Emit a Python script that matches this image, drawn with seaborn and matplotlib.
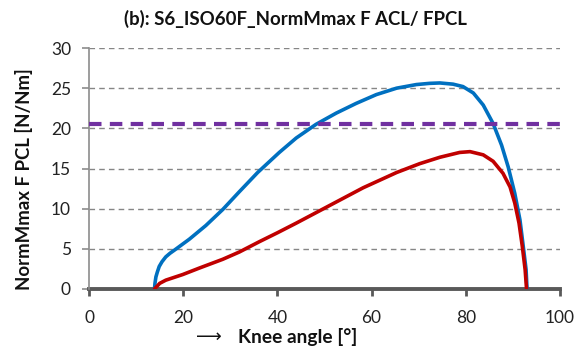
import numpy as np
import pandas as pd
import matplotlib
matplotlib.use("Agg")
import matplotlib.pyplot as plt
import seaborn as sns

# Knee angle [deg] and normalised ligament forces [N/Nm]
angle_acl = [13.9, 14.0, 14.2, 14.5, 14.9, 15.5, 16.3, 17.2, 18.4, 21.3, 24.8, 28.4, 31.9, 35.8, 40.4,
             44.0, 48.2, 52.5, 56.7, 61.0, 65.3, 69.5, 72.3, 74.5, 77.3, 79.4, 81.6, 83.7, 85.8,
             87.6, 89.0, 90.4, 91.5, 92.2, 92.8, 93.0]
force_acl = [0, 0.7, 1.5, 2.1, 2.8, 3.4, 4.0, 4.45, 4.95, 6.2, 7.9, 9.9, 12.1, 14.5, 17.0,
             18.8, 20.5, 21.9, 23.1, 24.2, 25.0, 25.45, 25.6, 25.65, 25.5, 25.2, 24.4, 22.9, 20.6,
             17.9, 15.2, 11.9, 8.6, 5.3, 2.4, 0]

angle_pcl = [13.9, 15.0, 16.3, 19.9, 23.4, 28.4, 31.9, 36.2, 40.0, 44.0, 51.1, 58.2, 65.3, 70.2, 74.5,
             78.7, 80.9, 83.7, 85.8, 87.9, 89.4, 90.4, 91.3, 92.0, 92.6, 92.9]
force_pcl = [0, 0.7, 1.1, 1.8, 2.6, 3.7, 4.6, 5.9, 7.0, 8.2, 10.4, 12.6, 14.5, 15.6, 16.4,
             17.0, 17.1, 16.7, 15.9, 14.4, 12.7, 10.7, 8.2, 5.3, 2.4, 0]

threshold = 20.6

x_ticks = [0, 20, 40, 60, 80, 100]
y_ticks = [0, 5, 10, 15, 20, 25, 30]

title = "(b): S6_ISO60F_NormMmax F ACL/ FPCL"
y_label = "NormMmax F PCL [N/Nm]"
x_label = "Knee angle [°]"

df = pd.concat([
    pd.DataFrame({"angle": angle_acl, "force": force_acl, "ligament": "ACL"}),
    pd.DataFrame({"angle": angle_pcl, "force": force_pcl, "ligament": "PCL"}),
], ignore_index=True)

sns.set_theme(style="white")
plt.rcParams["font.family"] = ["Lato", "DejaVu Sans"]

fig = plt.figure(figsize=(5.8, 3.57), dpi=100)
ax = fig.add_axes([0.1535, 0.1905, 0.812, 0.675])

grid_col = "#868686"
for yv in y_ticks[1:]:
    ax.axhline(yv, color=grid_col, lw=1.0, ls=(0, (4, 3)), zorder=1)

sns.lineplot(data=df, x="angle", y="force", hue="ligament", sort=False,
             palette={"ACL": "#0070C0", "PCL": "#C00000"}, lw=2.6,
             legend=False, ax=ax, zorder=3)
for ln in ax.get_lines():
    ln.set_solid_joinstyle("round")
    ln.set_solid_capstyle("round")
ax.axhline(threshold, color="#7030A0", lw=3.0, ls=(0, (3, 2)), zorder=4)

ax.set_xlim(0, 100)
ax.set_ylim(0, 30)
ax.set_xticks(x_ticks)
ax.set_yticks(y_ticks)
ax.tick_params(axis="both", labelsize=12.5, colors="#8c8c8c", labelcolor="#222222",
               length=5, width=1.2, direction="out", bottom=True, left=True)
ax.tick_params(axis="y", pad=8)
ax.tick_params(axis="x", pad=10, width=2, colors="#595959", labelcolor="#222222")

for s in ["top", "right"]:
    ax.spines[s].set_visible(False)
ax.spines["left"].set_color("#8c8c8c")
ax.spines["left"].set_linewidth(1.2)
ax.spines["bottom"].set_color("#595959")
ax.spines["bottom"].set_linewidth(2.8)
ax.spines["bottom"].set_zorder(2)

fig.text(0.509, 0.948, title, fontsize=13.4, fontweight="bold", color="#111111",
         ha="center", va="center")
ax.set_ylabel(y_label, fontsize=13.4, fontweight="bold", color="#111111")
ax.yaxis.set_label_coords(-0.12, 0.455)
ax.set_xlabel("")
fig.text(0.382, 0.056, "\u27F6", fontsize=13, color="#111111", ha="right", va="center",
         family=["DejaVu Sans"])
fig.text(0.41, 0.056, x_label, fontsize=13.8, fontweight="bold", color="#111111",
         ha="left", va="center")

fig.savefig("out.png", dpi=100)
